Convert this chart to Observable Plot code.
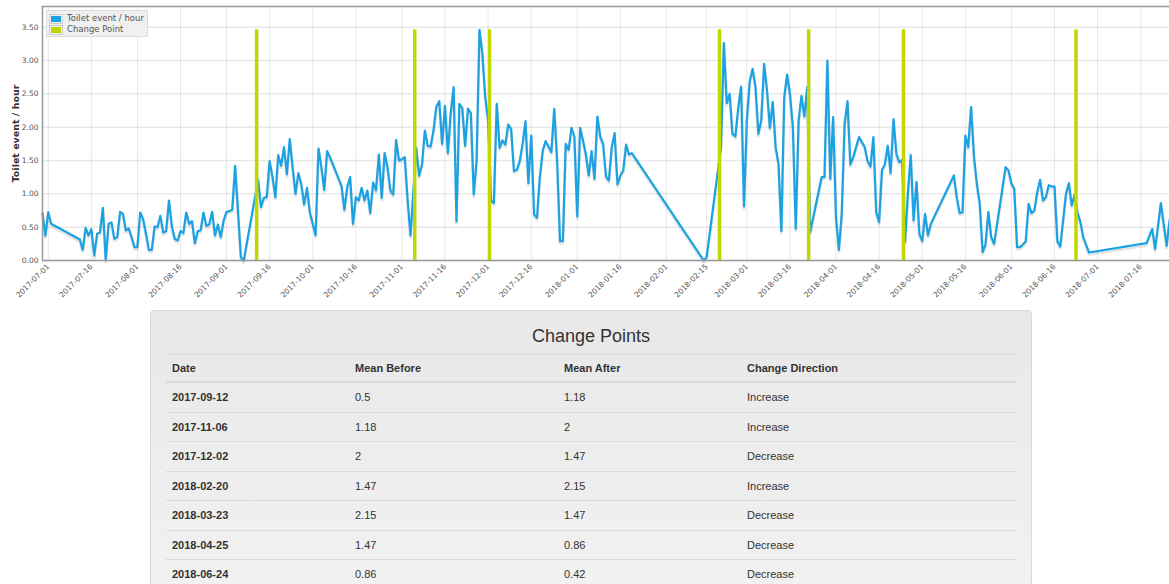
<!DOCTYPE html>
<html><head><meta charset="utf-8">
<script src="https://cdn.jsdelivr.net/npm/d3@7"></script>
<script src="https://cdn.jsdelivr.net/npm/@observablehq/plot@0.6"></script>
<style>
body{margin:0;background:#fff;}
#wrap{position:relative;width:1169px;height:300px;}
#legend{position:absolute;left:46px;top:10px;width:100px;height:25px;background:#f0f0f0;border:1px solid #dcdcdc;font-family:"DejaVu Sans",sans-serif;font-size:8.5px;color:#545454;}
#legend .row{position:absolute;left:2px;height:12px;line-height:12px;white-space:nowrap;}
#legend .sw{display:inline-block;vertical-align:middle;border:1px solid #ccc;padding:1px;margin-right:4px;}
#legend .sw span{display:block;width:10px;height:6px;}
#panel{position:absolute;left:150px;top:310px;width:850px;height:320px;padding:0 15px;border:1px solid #d8d8d8;border-radius:4px;background:linear-gradient(#e8e8e8,#f3f3f3);font-family:"Liberation Sans",Arial,sans-serif;color:#333;}
#panel .title{padding-top:7px;line-height:36px;height:36px;text-align:center;font-size:18px;}
#panel table{border-collapse:collapse;width:850px;font-size:11px;table-layout:fixed;}
#panel th,#panel td{text-align:left;padding:0 6px;border-top:1px solid #dadada;height:28.5px;}
#panel th{border-bottom:2px solid #dadada;height:26px;}
#panel td.d{font-weight:bold;}
</style></head><body>
<div id="wrap"></div>
<div id="panel"></div>
<script>
const dates = ["2017-06-29","2017-06-30","2017-07-01","2017-07-02","2017-07-12","2017-07-13","2017-07-14","2017-07-15","2017-07-16","2017-07-17","2017-07-18","2017-07-19","2017-07-20","2017-07-21","2017-07-22","2017-07-23","2017-07-24","2017-07-25","2017-07-26","2017-07-27","2017-07-28","2017-07-29","2017-07-30","2017-07-31","2017-08-01","2017-08-02","2017-08-03","2017-08-04","2017-08-05","2017-08-06","2017-08-07","2017-08-08","2017-08-09","2017-08-10","2017-08-11","2017-08-12","2017-08-13","2017-08-14","2017-08-15","2017-08-16","2017-08-17","2017-08-18","2017-08-19","2017-08-20","2017-08-21","2017-08-22","2017-08-23","2017-08-24","2017-08-25","2017-08-26","2017-08-27","2017-08-28","2017-08-29","2017-08-30","2017-08-31","2017-09-01","2017-09-02","2017-09-03","2017-09-04","2017-09-06","2017-09-07","2017-09-12","2017-09-13","2017-09-14","2017-09-15","2017-09-16","2017-09-17","2017-09-18","2017-09-19","2017-09-20","2017-09-21","2017-09-22","2017-09-23","2017-09-24","2017-09-25","2017-09-26","2017-09-27","2017-09-28","2017-09-29","2017-09-30","2017-10-01","2017-10-02","2017-10-03","2017-10-04","2017-10-05","2017-10-06","2017-10-07","2017-10-11","2017-10-12","2017-10-13","2017-10-14","2017-10-15","2017-10-16","2017-10-17","2017-10-18","2017-10-19","2017-10-20","2017-10-21","2017-10-22","2017-10-23","2017-10-24","2017-10-25","2017-10-26","2017-10-27","2017-10-28","2017-10-29","2017-10-30","2017-10-31","2017-11-01","2017-11-02","2017-11-03","2017-11-04","2017-11-06","2017-11-07","2017-11-08","2017-11-09","2017-11-10","2017-11-11","2017-11-12","2017-11-13","2017-11-14","2017-11-15","2017-11-16","2017-11-17","2017-11-18","2017-11-19","2017-11-20","2017-11-21","2017-11-22","2017-11-23","2017-11-24","2017-11-25","2017-11-26","2017-11-27","2017-11-28","2017-11-29","2017-11-30","2017-12-01","2017-12-02","2017-12-03","2017-12-04","2017-12-05","2017-12-06","2017-12-07","2017-12-08","2017-12-09","2017-12-10","2017-12-11","2017-12-12","2017-12-13","2017-12-14","2017-12-15","2017-12-16","2017-12-17","2017-12-18","2017-12-19","2017-12-20","2017-12-21","2017-12-22","2017-12-23","2017-12-24","2017-12-25","2017-12-26","2017-12-27","2017-12-28","2017-12-29","2017-12-30","2017-12-31","2018-01-01","2018-01-02","2018-01-03","2018-01-04","2018-01-05","2018-01-06","2018-01-07","2018-01-08","2018-01-09","2018-01-10","2018-01-11","2018-01-12","2018-01-13","2018-01-14","2018-01-15","2018-01-16","2018-01-17","2018-01-18","2018-01-19","2018-01-20","2018-02-14","2018-02-15","2018-02-20","2018-02-21","2018-02-22","2018-02-23","2018-02-24","2018-02-25","2018-02-26","2018-02-27","2018-02-28","2018-03-01","2018-03-02","2018-03-03","2018-03-04","2018-03-05","2018-03-06","2018-03-07","2018-03-08","2018-03-09","2018-03-10","2018-03-11","2018-03-12","2018-03-13","2018-03-14","2018-03-15","2018-03-16","2018-03-17","2018-03-18","2018-03-19","2018-03-20","2018-03-21","2018-03-22","2018-03-23","2018-03-27","2018-03-28","2018-03-29","2018-03-30","2018-03-31","2018-04-01","2018-04-02","2018-04-03","2018-04-04","2018-04-05","2018-04-06","2018-04-07","2018-04-08","2018-04-09","2018-04-10","2018-04-11","2018-04-12","2018-04-13","2018-04-14","2018-04-15","2018-04-16","2018-04-17","2018-04-18","2018-04-19","2018-04-20","2018-04-21","2018-04-22","2018-04-23","2018-04-24","2018-04-25","2018-04-26","2018-04-27","2018-04-28","2018-04-29","2018-04-30","2018-05-01","2018-05-02","2018-05-03","2018-05-04","2018-05-12","2018-05-13","2018-05-14","2018-05-15","2018-05-16","2018-05-17","2018-05-18","2018-05-19","2018-05-20","2018-05-21","2018-05-22","2018-05-23","2018-05-24","2018-05-25","2018-05-26","2018-05-30","2018-05-31","2018-06-01","2018-06-02","2018-06-03","2018-06-04","2018-06-05","2018-06-06","2018-06-07","2018-06-08","2018-06-09","2018-06-10","2018-06-11","2018-06-12","2018-06-13","2018-06-14","2018-06-15","2018-06-16","2018-06-17","2018-06-18","2018-06-19","2018-06-20","2018-06-21","2018-06-22","2018-06-23","2018-06-24","2018-06-25","2018-06-26","2018-06-28","2018-07-18","2018-07-20","2018-07-21","2018-07-23","2018-07-25","2018-07-26"];
const values = [0.71,0.375,0.725,0.55,0.315,0.16,0.49,0.375,0.47,0.075,0.40,0.42,0.79,0.01,0.55,0.57,0.325,0.35,0.73,0.70,0.45,0.48,0.35,0.20,0.20,0.72,0.62,0.40,0.16,0.16,0.51,0.50,0.67,0.42,0.44,0.90,0.51,0.325,0.30,0.44,0.41,0.72,0.55,0.59,0.26,0.44,0.45,0.72,0.52,0.54,0.73,0.375,0.54,0.35,0.60,0.73,0.74,0.76,1.42,0.05,0.0,1.21,0.80,0.94,0.95,1.49,1.25,0.95,1.58,1.42,1.70,1.29,1.82,1.40,1.0,1.31,1.15,0.84,1.09,0.72,0.55,0.38,1.68,1.40,1.06,1.64,1.55,1.12,0.76,1.10,1.25,0.55,0.95,0.90,1.09,0.90,1.05,0.71,1.17,1.05,1.59,0.94,1.61,1.40,1.05,0.99,1.81,1.50,1.52,1.55,0.90,0.375,1.69,1.27,1.44,1.95,1.72,1.71,1.95,2.31,2.39,1.75,2.32,1.61,2.21,2.60,0.585,2.35,2.29,1.72,2.28,2.21,0.99,1.50,3.46,3.10,2.45,2.10,0.90,0.86,2.35,1.69,1.80,1.74,2.04,1.975,1.34,1.36,1.49,1.75,2.09,1.16,1.875,0.69,0.64,1.25,1.65,1.79,1.71,1.625,2.275,1.50,0.29,0.29,1.75,1.66,1.99,1.86,0.66,1.99,1.80,1.59,1.275,1.64,1.225,2.16,1.86,1.75,1.26,1.20,1.70,1.91,1.14,1.275,1.35,1.74,1.59,1.61,0.0,0.05,1.70,3.26,2.36,2.50,1.90,1.86,2.29,2.61,0.81,2.11,2.69,2.875,2.60,1.90,2.10,2.95,2.55,1.99,2.38,1.70,1.45,0.44,2.45,2.79,2.49,2.00,0.475,2.10,2.47,2.16,2.60,0.425,1.25,1.25,3.00,1.225,2.15,0.65,0.16,0.70,2.05,2.39,1.44,1.55,1.70,1.85,1.775,1.70,1.49,1.41,1.85,0.725,0.575,1.36,1.44,1.725,1.31,2.12,1.60,1.475,1.51,0.275,1.0,1.58,0.60,1.18,0.40,0.29,0.70,0.375,0.55,1.275,0.95,0.71,0.725,1.875,1.70,2.30,1.55,1.15,0.85,0.125,0.24,0.73,0.35,0.25,1.40,1.35,1.16,1.075,0.20,0.20,0.24,0.29,0.85,0.71,0.75,1.025,1.21,0.90,0.95,1.13,1.11,1.11,0.29,0.21,0.60,1.0,1.16,0.825,0.99,0.72,0.58,0.35,0.12,0.26,0.475,0.17,0.86,0.22,0.6];

const changeDates = ["2017-09-12","2017-11-06","2017-12-02","2018-02-20","2018-03-23","2018-04-25","2018-06-24"];
const meanBefore = [0.5,1.18,2,1.47,2.15,1.47,0.86];
const meanAfter = [1.18,2,1.47,2.15,1.47,0.86,0.42];
const directions = ["Increase","Increase","Decrease","Increase","Decrease","Decrease","Decrease"];

const xTickLabels = ["2017-07-01","2017-07-16","2017-08-01","2017-08-16","2017-09-01","2017-09-16","2017-10-01","2017-10-16","2017-11-01","2017-11-16","2017-12-01","2017-12-16","2018-01-01","2018-01-16","2018-02-01","2018-02-15","2018-03-01","2018-03-16","2018-04-01","2018-04-16","2018-05-01","2018-05-16","2018-06-01","2018-06-16","2018-07-01","2018-07-16"];
const yTicks = [0,0.5,1,1.5,2,2.5,3,3.5];
const seriesLabel = "Toilet event / hour";
const changeLabel = "Change Point";
const tableTitle = "Change Points";
const tableHeaders = ["Date","Mean Before","Mean After","Change Direction"];

const blue = "#1aa2e3";
const lime = "#c2d600";

const data = dates.map((d, i) => ({date: new Date(d), value: values[i]}));
const cp = changeDates.map(d => new Date(d));
const xTicks = xTickLabels.map(d => new Date(d));
const xDomain = d3.extent(data, d => d.date);
const yTop = 3.81;
const barTop = d3.max(values);

const chart = Plot.plot({
  width: 1169, height: 300,
  marginLeft: 42, marginRight: 0, marginTop: 6, marginBottom: 40,
  style: {fontFamily: "DejaVu Sans, sans-serif", fontSize: "7.5px", color: "#545454", background: "#fff"},
  x: {type: "utc", domain: xDomain},
  y: {domain: [0, yTop]},
  marks: [
    Plot.gridX(xTicks, {stroke: "#000", strokeOpacity: 0.09}),
    Plot.gridY(yTicks, {stroke: "#000", strokeOpacity: 0.09, strokeWidth: 1.5}),
    Plot.axisX(xTicks, {tickSize: 0, tickPadding: 5, tickRotate: -45, tickFormat: d3.utcFormat("%Y-%m-%d"), label: null}),
    Plot.axisY(yTicks, {tickSize: 0, tickPadding: 4, tickFormat: d3.format(".2f"), label: null}),
    Plot.text([seriesLabel], {frameAnchor: "left", textAnchor: "middle", rotate: -90, dx: -27, fontWeight: "bold", fontSize: 9.5, fill: "#333"}),
    Plot.line(data, {x: "date", y: "value", stroke: "#000", strokeOpacity: 0.1, strokeWidth: 3, dy: 2}),
    Plot.line(data, {x: "date", y: "value", stroke: blue, strokeWidth: 2.2}),
    Plot.ruleX(cp, {x: d => d, y1: 0, y2: barTop, stroke: lime, strokeWidth: 3.5, dx: -1.5}),
    Plot.ruleY([0], {stroke: "#999", strokeWidth: 1.5}),
    Plot.ruleY([yTop], {stroke: "#999", strokeWidth: 1.5}),
    Plot.ruleX([xDomain[0]], {stroke: "#999", strokeWidth: 1.5})
  ]
});
const wrap = document.getElementById("wrap");
wrap.appendChild(chart);

const legend = document.createElement("div");
legend.id = "legend";
[[seriesLabel, blue, 1], [changeLabel, lime, 12]].forEach(([t, c, top]) => {
  const row = document.createElement("div");
  row.className = "row";
  row.style.top = top + "px";
  row.innerHTML = `<span class="sw"><span style="background:${c}"></span></span>${t}`;
  legend.appendChild(row);
});
wrap.appendChild(legend);

const panel = document.getElementById("panel");
const title = document.createElement("div");
title.className = "title";
title.textContent = tableTitle;
panel.appendChild(title);
const table = document.createElement("table");
const colW = [183, 209, 183, 275];
const cg = document.createElement("colgroup");
colW.forEach(w => { const c = document.createElement("col"); c.style.width = w + "px"; cg.appendChild(c); });
table.appendChild(cg);
const thead = document.createElement("thead");
const htr = document.createElement("tr");
tableHeaders.forEach(h => { const th = document.createElement("th"); th.textContent = h; htr.appendChild(th); });
thead.appendChild(htr);
table.appendChild(thead);
const tbody = document.createElement("tbody");
changeDates.forEach((d, i) => {
  const tr = document.createElement("tr");
  [d, meanBefore[i], meanAfter[i], directions[i]].forEach((v, j) => {
    const td = document.createElement("td");
    if (j === 0) td.className = "d";
    td.textContent = String(v);
    tr.appendChild(td);
  });
  tbody.appendChild(tr);
});
table.appendChild(tbody);
panel.appendChild(table);
</script></body></html>
